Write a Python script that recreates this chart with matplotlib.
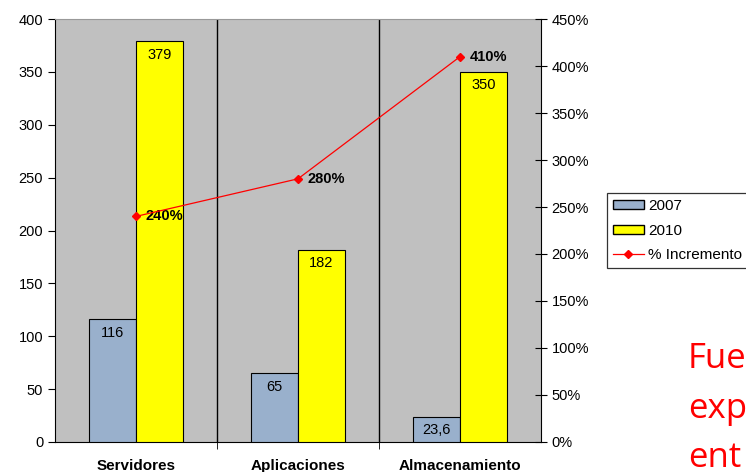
import matplotlib.pyplot as plt
import numpy as np
from matplotlib.patches import Patch
from matplotlib.lines import Line2D
from matplotlib.ticker import FuncFormatter

categorias = ['Servidores', 'Aplicaciones', 'Almacenamiento']
valores_2007 = [116, 65, 23.6]
valores_2010 = [379, 182, 350]
etiquetas_2007 = ['116', '65', '23,6']
incremento = [240, 280, 410]

plt.rcParams['font.family'] = ['Liberation Sans', 'DejaVu Sans']

fig = plt.figure(figsize=(7.46, 4.72), dpi=100)
ax = fig.add_axes([0.0737, 0.0636, 0.6516, 0.8961])
ax.set_facecolor('#c0c0c0')

x = np.arange(len(categorias))
w = 0.29
b1 = ax.bar(x - w / 2, valores_2007, w, color='#99b0cc', edgecolor='black', linewidth=0.8, zorder=3)
b2 = ax.bar(x + w / 2, valores_2010, w, color='#ffff00', edgecolor='black', linewidth=0.8, zorder=3)

for i in range(len(categorias)):
    ax.text(x[i] - w / 2, valores_2007[i] - 6, etiquetas_2007[i], ha='center', va='top', fontsize=10.5, zorder=4)
    ax.text(x[i] + w / 2, valores_2010[i] - 6, str(valores_2010[i]), ha='center', va='top', fontsize=10.5, zorder=4)

# separadores de categoria
for b in [0.5, 1.5]:
    ax.axvline(b, color='black', linewidth=1, zorder=2)

ax.set_xlim(-0.5, 2.5)
ax.set_ylim(0, 400)
ax.set_yticks(range(0, 401, 50))
ax.set_xticks(x)
ax.set_xticklabels(categorias, fontweight='bold', fontsize=11)
ax.tick_params(axis='x', length=0, pad=12)
ax.set_xticks([0.5, 1.5], minor=True)
ax.tick_params(axis='x', which='minor', length=5, direction='out', color='black')
ax.tick_params(axis='y', labelsize=10.5, length=5, direction='out')
ax.spines['top'].set_color('#999999')
ax.spines['right'].set_visible(False)

ax2 = ax.twinx()
ax2.plot(x, incremento, color='red', linewidth=0.9, marker='D', markersize=4.5, zorder=5)
for i in range(len(categorias)):
    ax2.text(x[i] + 0.06, incremento[i], f'{incremento[i]}%', fontweight='bold', fontsize=10.5,
             va='center', ha='left')
ax2.set_ylim(0, 450)
ax2.set_yticks(range(0, 451, 50))
ax2.yaxis.set_major_formatter(FuncFormatter(lambda v, p: f'{int(v)}%'))
ax2.tick_params(axis='y', labelsize=10.5, length=8, direction='inout')
ax2.spines['top'].set_visible(False)
ax2.spines['left'].set_visible(False)
ax2.spines['bottom'].set_visible(False)

handles = [Patch(facecolor='#99b0cc', edgecolor='black', label='2007'),
           Patch(facecolor='#ffff00', edgecolor='black', label='2010'),
           Line2D([0], [0], color='red', linewidth=0.9, marker='D', markersize=4.5, label='% Incremento')]
leg = fig.legend(handles=handles, loc='upper left', bbox_to_anchor=(0.8137, 0.591), fontsize=11,
                 frameon=True, fancybox=False, edgecolor='black', borderaxespad=0,
                 handlelength=2.0, handleheight=0.55, labelspacing=0.68, borderpad=0.4, handletextpad=0.3)
leg.get_frame().set_linewidth(0.9)

fig.text(0.922, 0.220, 'Fue', color='red', fontsize=25, fontfamily='Open Sans', va='baseline')
fig.text(0.922, 0.114, 'exp', color='red', fontsize=25, fontfamily='Open Sans', va='baseline')
fig.text(0.922, 0.0106, 'ent', color='red', fontsize=25, fontfamily='Open Sans', va='baseline')

fig.savefig('out.png', dpi=100)
